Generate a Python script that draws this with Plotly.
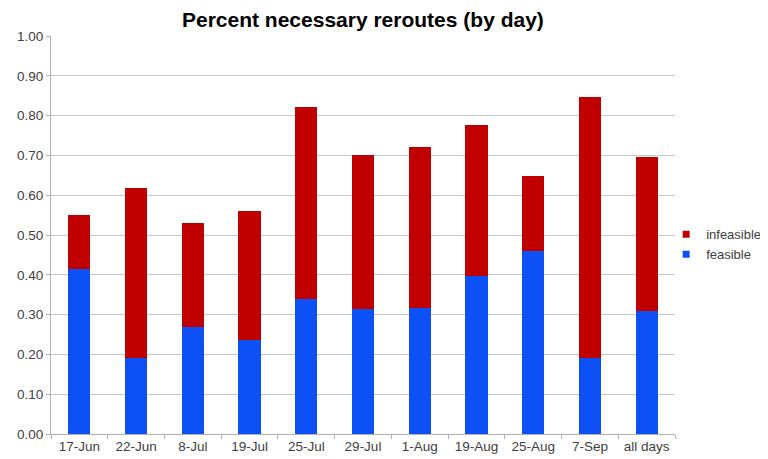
import plotly.graph_objects as go

days = ["17-Jun", "22-Jun", "8-Jul", "19-Jul", "25-Jul", "29-Jul",
        "1-Aug", "19-Aug", "25-Aug", "7-Sep", "all days"]
feasible = [0.414, 0.191, 0.268, 0.237, 0.340, 0.314, 0.316, 0.398, 0.461, 0.192, 0.310]
total = [0.551, 0.618, 0.531, 0.561, 0.822, 0.700, 0.722, 0.776, 0.647, 0.848, 0.697]
infeasible = [round(t - f, 3) for t, f in zip(total, feasible)]
y_ticks = [i / 10 for i in range(11)]

BLUE = "#0d50f5"
RED = "#c00000"

fig = go.Figure()
fig.add_trace(go.Bar(x=days, y=feasible, name="feasible", marker_color=BLUE,
                     marker_line_width=0, showlegend=False))
fig.add_trace(go.Bar(x=days, y=infeasible, name="infeasible", marker_color=RED,
                     marker_line_width=0, showlegend=False))

# small square legend markers like the original
for name, col in [("infeasible", RED), ("feasible", BLUE)]:
    fig.add_trace(go.Scatter(x=[None], y=[None], mode="markers", name=name,
                             marker={"symbol": "square", "size": 7, "color": col}))

# page body has an 8px margin, so the figure is 8px smaller than the window
fig.update_layout(
    barmode="stack",
    bargap=0.61,
    width=760,
    height=451,
    margin={"l": 43, "r": 93, "t": 28, "b": 25, "autoexpand": False},
    paper_bgcolor="white",
    plot_bgcolor="white",
    font={"family": "Liberation Sans, Arial, sans-serif", "size": 13.5, "color": "#404040"},
    title={
        "text": "<b>Percent necessary reroutes (by day)</b>",
        "xref": "container", "yref": "container",
        "x": 0.467, "xanchor": "center", "y": 0.99, "yanchor": "top",
        "font": {"size": 21, "color": "black"},
    },
    legend={
        "xref": "container", "yref": "container",
        "x": 0.866, "y": 0.476, "xanchor": "left", "yanchor": "middle",
        "traceorder": "normal",
        "font": {"size": 13, "color": "#404040"},
        "itemwidth": 30,
        "tracegroupgap": 0,
        "bgcolor": "rgba(0,0,0,0)",
    },
    xaxis={
        "showline": True, "linecolor": "#b0b0b0",
        "ticks": "outside", "tickson": "boundaries", "ticklen": 4, "tickcolor": "#b0b0b0",
        "showgrid": False, "automargin": False,
    },
    yaxis={
        "range": [0, 1.0], "tickvals": y_ticks, "tickformat": ".2f",
        "showline": True, "linecolor": "#b0b0b0",
        "ticks": "outside", "ticklen": 4, "tickcolor": "#b0b0b0",
        "showgrid": True, "gridcolor": "#c8c8c8", "gridwidth": 1,
        "zeroline": False, "automargin": False,
    },
)

fig.write_html("out.html")
